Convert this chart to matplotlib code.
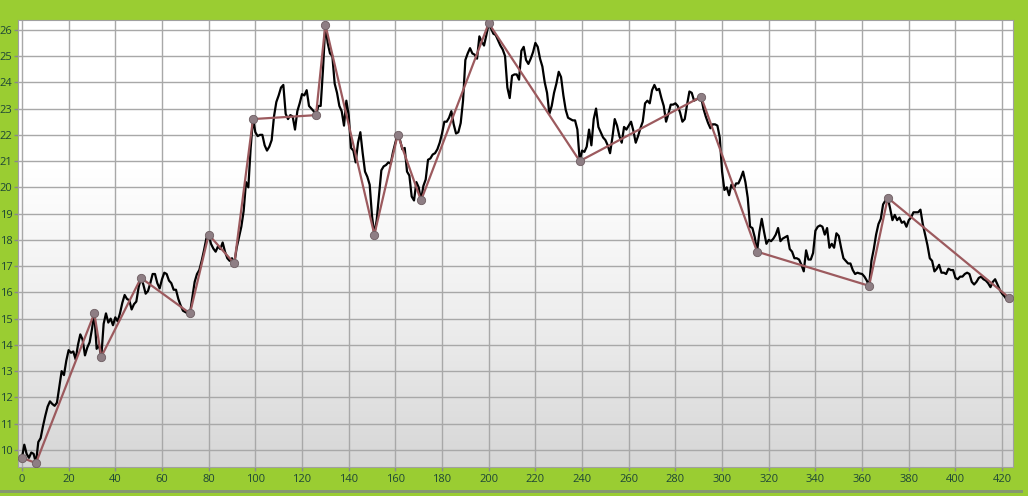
import matplotlib
matplotlib.use("Agg")
import matplotlib.pyplot as plt
import numpy as np
from matplotlib.patches import Rectangle

plt.rcParams['font.family'] = ['Open Sans', 'DejaVu Sans']

# price series, one value per step (x = 0 .. 423)
price = [
    9.7, 10.2, 9.85, 9.7, 9.9, 9.85, 9.5, 10.3, 10.45, 10.9,            # 0
    11.3, 11.65, 11.85, 11.75, 11.68, 11.8, 12.4, 13.0, 12.85, 13.4,    # 10
    13.8, 13.7, 13.75, 13.45, 14.0, 14.4, 14.2, 13.6, 13.9, 14.1,       # 20
    14.6, 15.2, 13.85, 14.0, 13.55, 14.8, 15.2, 14.85, 15.0, 14.75,     # 30
    15.05, 14.9, 15.2, 15.6, 15.9, 15.75, 15.7, 15.35, 15.55, 15.65,    # 40
    16.2, 16.55, 16.3, 15.95, 16.05, 16.35, 16.7, 16.7, 16.35, 16.15,   # 50
    16.5, 16.75, 16.7, 16.45, 16.35, 16.1, 16.1, 15.75, 15.5, 15.3,     # 60
    15.25, 15.2, 15.2, 15.8, 16.4, 16.7, 16.85, 17.2, 17.6, 18.05,      # 70
    18.2, 17.85, 17.67, 17.55, 17.75, 17.65, 17.9, 17.55, 17.3, 17.2,   # 80
    17.3, 17.1, 17.7, 18.1, 18.5, 19.1, 20.2, 20.0, 21.5, 22.6,         # 90
    22.1, 21.95, 22.0, 22.0, 21.6, 21.4, 21.55, 21.8, 22.7, 23.25,      # 100
    23.5, 23.8, 23.9, 22.8, 22.6, 22.75, 22.7, 22.2, 22.9, 23.2,        # 110
    23.55, 23.5, 23.7, 23.1, 23.0, 22.9, 22.75, 23.1, 23.1, 24.5,       # 120
    26.2, 25.5, 25.1, 25.0, 23.95, 23.6, 23.1, 22.9, 22.35, 23.3,       # 130
    22.75, 21.5, 21.4, 20.95, 21.7, 22.1, 21.3, 20.6, 20.4, 20.1,       # 140
    18.9, 18.2, 18.75, 19.7, 20.65, 20.8, 20.85, 20.95, 20.9, 21.35,    # 150
    21.7, 22.0, 21.8, 21.45, 21.5, 20.6, 20.45, 19.65, 19.5, 20.2,      # 160
    20.0, 19.5, 20.05, 20.3, 21.05, 21.1, 21.25, 21.3, 21.45, 21.7,     # 170
    22.05, 22.5, 22.5, 22.65, 22.9, 22.4, 22.05, 22.1, 22.45, 23.3,     # 180
    24.85, 25.1, 25.3, 25.1, 25.05, 24.9, 25.75, 25.55, 25.4, 25.8,     # 190
    26.25, 26.05, 25.85, 25.8, 25.6, 25.4, 25.25, 25.0, 23.8, 23.4,     # 200
    24.25, 24.3, 24.3, 24.1, 25.2, 25.35, 24.85, 24.7, 24.9, 25.15,     # 210
    25.5, 25.35, 24.9, 24.6, 24.0, 23.6, 22.8, 23.1, 23.6, 23.95,       # 220
    24.4, 24.2, 23.5, 22.95, 22.65, 22.6, 22.55, 22.55, 22.2, 21.0,     # 230
    21.4, 21.35, 21.55, 22.2, 21.6, 22.6, 23.0, 22.3, 22.1, 21.9,       # 240
    21.8, 21.6, 21.3, 21.9, 22.6, 22.35, 21.95, 21.7, 22.3, 22.2,       # 250
    22.35, 22.5, 22.15, 21.7, 21.95, 22.25, 22.5, 23.2, 23.3, 23.2,     # 260
    23.7, 23.9, 23.7, 23.75, 23.4, 23.1, 22.5, 22.8, 23.15, 23.15,      # 270
    23.2, 23.1, 22.85, 22.5, 22.6, 23.15, 23.65, 23.6, 23.3, 23.35,     # 280
    23.4, 23.45, 23.0, 22.7, 22.45, 22.25, 22.4, 22.4, 22.35, 21.9,     # 290
    20.6, 19.9, 20.0, 19.7, 20.1, 19.95, 20.15, 20.15, 20.35, 20.6,     # 300
    20.2, 19.6, 18.5, 18.45, 18.1, 17.55, 18.3, 18.8, 18.3, 17.85,      # 310
    18.0, 17.95, 18.05, 18.2, 18.45, 17.95, 18.05, 18.1, 18.15, 17.65,  # 320
    17.55, 17.3, 17.3, 17.25, 17.05, 16.8, 17.6, 17.25, 17.25, 17.5,    # 330
    18.35, 18.5, 18.55, 18.5, 18.2, 18.45, 17.7, 17.85, 17.7, 18.25,    # 340
    18.15, 17.7, 17.3, 17.2, 17.1, 17.1, 16.85, 16.7, 16.75, 16.72,     # 350
    16.7, 16.6, 16.45, 16.25, 17.2, 17.65, 18.2, 18.6, 18.8, 19.35,     # 360
    19.5, 19.6, 19.2, 18.75, 18.95, 18.75, 18.85, 18.65, 18.7, 18.5,    # 370
    18.75, 18.85, 19.05, 19.05, 19.05, 19.15, 18.6, 18.2, 17.8, 17.3,   # 380
    17.2, 16.8, 16.9, 17.05, 16.75, 16.75, 16.7, 16.9, 16.85, 16.85,    # 390
    16.55, 16.5, 16.6, 16.6, 16.7, 16.75, 16.7, 16.4, 16.3, 16.4,       # 400
    16.55, 16.6, 16.5, 16.45, 16.35, 16.2, 16.4, 16.5, 16.3, 16.1,      # 410
    15.95, 15.85, 15.72, 15.8,                                          # 420
]

# turning points of the zigzag
zz_x = [0, 6, 31, 34, 51, 72, 80, 91, 99, 126, 130, 151, 161, 171,
        200, 239, 291, 315, 363, 371, 423]
zz_y = [price[i] for i in zz_x]

x_ticks = list(range(0, 421, 20))
y_ticks = list(range(10, 27))

fig = plt.figure(figsize=(10.28, 4.96), dpi=100)
fig.patch.set_facecolor('#9acd32')
# soft shadow under the frame
fig.add_artist(Rectangle((0.0, 0.006), 0.995, 0.006, transform=fig.transFigure,
                         color='#869870', lw=0, zorder=0))
ax = fig.add_axes([0.0175, 0.059, 0.968, 0.9])

# white to grey background gradient
grad = np.linspace(0, 1, 256).reshape(-1, 1)
ax.imshow(grad, extent=[0, 1, 0, 1], transform=ax.transAxes, aspect='auto',
          cmap=matplotlib.colors.LinearSegmentedColormap.from_list(
              'bg', ['#d6d6d6', '#eeeeee', '#ffffff', '#ffffff']),
          origin='lower', zorder=0)

ax.plot(range(len(price)), price, color='black', lw=1.6, zorder=3)
ax.plot(zz_x, zz_y, color='#9c5a5e', lw=1.6, zorder=4,
        marker='o', markersize=6, markerfacecolor='#8e7e84',
        markeredgecolor='#6e5e62', markeredgewidth=0.6)

ax.set_xlim(-1.7, 424.7)
ax.set_ylim(9.36, 26.36)
ax.set_xticks(x_ticks)
ax.set_yticks(y_ticks)
ax.grid(True, color='#a8a8a8', lw=1.0, zorder=1)
ax.set_axisbelow(True)
ax.tick_params(colors='#888888', labelcolor='#1e4636', labelsize=8,
               length=3, width=1, pad=1)
ax.tick_params(axis='x', pad=2)
for s in ax.spines.values():
    s.set_color('#a0a0a0')

fig.savefig('out.png', dpi=100, facecolor=fig.get_facecolor())
